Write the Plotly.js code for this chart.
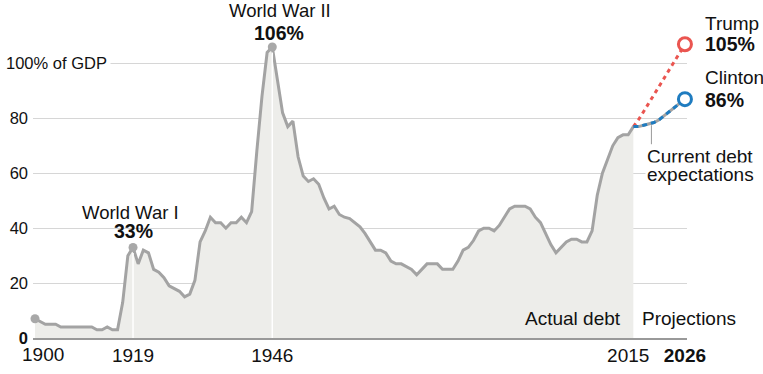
<!DOCTYPE html>
<html><head><meta charset="utf-8">
<script src="https://cdn.plot.ly/plotly-3.0.1.min.js"></script>
<style>html,body{margin:0;padding:0;background:#fff;}#chart{width:763px;height:374px;}</style>
</head><body><div id="chart"></div>
<script>
// ---- data ----
const firstYear = 1900;
// Debt held by the public, % of GDP, 1900-2016
const actualDebt = [
  7, 6, 5, 5, 5, 4, 4, 4, 4, 4,
  4, 4, 3, 3, 4, 3, 3, 13, 30, 33,
  27, 32, 31, 25, 24, 22, 19, 18, 17, 15,
  16, 21, 35, 39, 44, 42, 42, 40, 42, 42,
  44, 42, 46, 68, 88, 104, 106, 94, 82, 77,
  79, 66, 59, 57, 58, 56, 51, 47, 48, 45,
  44, 43.5, 42, 40.5, 38, 35, 32, 32, 31, 28,
  27, 27, 26, 25, 23, 25, 27, 27, 27, 25,
  25, 25, 28, 32, 33, 35.5, 39, 40, 40, 39,
  41, 44, 47, 48, 48, 48, 47, 44, 42, 38,
  34, 31, 33, 35, 36, 36, 35, 35, 39, 52,
  60, 65, 70, 73, 74, 74, 77
];
const projYears    = [2016, 2017, 2018, 2019, 2020, 2021, 2022, 2023, 2024, 2025, 2026];
const expectedDebt = [77, 77, 77.5, 78, 78.5, 79.5, 81, 82.5, 84, 85.5, 87];
const clintonDebt  = [77, 77, 77.5, 78, 78.5, 79.5, 81, 82.5, 84, 85.5, 87];
const trumpDebt    = [77, 79.5, 82.5, 85.5, 88.5, 91.5, 94.5, 97.5, 100.5, 104, 107];
const milestoneYears = [1900, 1919, 1946];
const xTickVals = [1919, 1946, 2015, 2026];
const xTickText = ['1919', '1946', '2015', '<b>2026</b>'];
const yTickVals = [0, 20, 40, 60, 80, 100];
const yTickText = ['<b>0</b>', '20', '40', '60', '80', ''];

// ---- derived ----
const actualYears = actualDebt.map((_, i) => firstYear + i);
const milestoneDebt = milestoneYears.map(y => actualDebt[y - firstYear]);
const last = projYears.length - 1;

const FONT = '"Liberation Sans", Arial, sans-serif';
const GRAY_LINE = '#a3a3a3';
const FILL = '#ededea';
const RED = '#ea5550';
const BLUE = '#1f7cc0';

const traces = [
  { x: actualYears, y: actualDebt, type: 'scatter', mode: 'lines', fill: 'tozeroy',
    fillcolor: FILL, line: { color: GRAY_LINE, width: 3 }, hoverinfo: 'skip' },
  { x: projYears, y: expectedDebt, type: 'scatter', mode: 'lines',
    line: { color: GRAY_LINE, width: 3 }, hoverinfo: 'skip' },
  { x: projYears, y: trumpDebt, type: 'scatter', mode: 'lines',
    line: { color: RED, width: 3, dash: '4px,4px' }, hoverinfo: 'skip' },
  { x: projYears, y: clintonDebt, type: 'scatter', mode: 'lines',
    line: { color: BLUE, width: 3, dash: '5px,4px' }, hoverinfo: 'skip' },
  { x: milestoneYears, y: milestoneDebt, type: 'scatter', mode: 'markers',
    marker: { color: '#a8a8a8', size: 9 }, hoverinfo: 'skip', cliponaxis: false },
  { x: [projYears[last]], y: [trumpDebt[last]], type: 'scatter', mode: 'markers',
    marker: { color: '#fff', size: 13, line: { color: RED, width: 3 } }, cliponaxis: false, hoverinfo: 'skip' },
  { x: [projYears[last]], y: [clintonDebt[last]], type: 'scatter', mode: 'markers',
    marker: { color: '#fff', size: 13, line: { color: BLUE, width: 3 } }, cliponaxis: false, hoverinfo: 'skip' }
];

const shapes = milestoneYears.slice(1).map(y => ({
  type: 'line', xref: 'x', yref: 'y', layer: 'above',
  x0: y, x1: y, y0: 0, y1: actualDebt[y - firstYear] - 2,
  line: { color: '#ffffff', width: 1.5 }
}));
// pointer for "Current debt expectations"
shapes.push({ type: 'line', xref: 'x', yref: 'y', layer: 'above',
  x0: 2019.5, x1: 2019.5, y0: 70.5, y1: 77.5, line: { color: '#999', width: 1 } });

function ann(text, x, y, opts) {
  return Object.assign({ text, x, y, xref: 'paper', yref: 'paper', showarrow: false,
    xanchor: 'center', yanchor: 'middle', font: { family: FONT, size: 19, color: '#111' } }, opts || {});
}

const annotations = [
  ann('100% of GDP', -0.047, 0.909, { xanchor: 'left', bgcolor: '#fff', borderpad: 3, font: { family: FONT, size: 16.5, color: '#111' } }),
  ann('World War II', 0.3777, 1.084, { font: { family: FONT, size: 18.5, color: '#111' } }),
  ann('<b>106%</b>', 0.376, 1.010, { font: { family: FONT, size: 19.5, color: '#111' } }),
  ann('World War I', 0.1498, 0.417, { font: { family: FONT, size: 18.5, color: '#111' } }),
  ann('<b>33%</b>', 0.1544, 0.354, { font: { family: FONT, size: 19.5, color: '#111' } }),
  ann('Trump', 1.0245, 1.043, { xanchor: 'left' }),
  ann('<b>105%</b>', 1.0245, 0.973, { xanchor: 'left', font: { family: FONT, size: 19.5, color: '#111' } }),
  ann('Clinton', 1.0245, 0.861, { xanchor: 'left' }),
  ann('<b>86%</b>', 1.0245, 0.788, { xanchor: 'left', font: { family: FONT, size: 19.5, color: '#111' } }),
  ann('Current debt', 0.9358, 0.601, { xanchor: 'left', bgcolor: '#fff', borderpad: 1 }),
  ann('expectations', 0.9358, 0.540, { xanchor: 'left', bgcolor: '#fff', borderpad: 1 }),
  ann('Actual debt', 0.902, 0.063, { xanchor: 'right' }),
  ann('Projections', 0.928, 0.063, { xanchor: 'left' }),
  { text: '1900', x: 1900, y: -0.056, xref: 'x', yref: 'paper', showarrow: false,
    xanchor: 'left', yanchor: 'middle', xshift: -15, font: { family: FONT, size: 19, color: '#111' } }
];

const layout = {
  width: 763, height: 374,
  margin: { l: 33, r: 76, t: 36, b: 36 },
  paper_bgcolor: '#fff', plot_bgcolor: '#fff',
  showlegend: false, hovermode: false,
  font: { family: FONT, color: '#111', size: 19 },
  xaxis: { range: [1899.61, 2026.4], showgrid: false, zeroline: false,
    showline: true, linecolor: '#999', linewidth: 1.5, ticks: '',
    tickmode: 'array', tickvals: xTickVals, ticktext: xTickText,
    tickfont: { family: FONT, size: 19, color: '#111' }, fixedrange: true },
  yaxis: { range: [0, 110], tickmode: 'array', tickvals: yTickVals, ticktext: yTickText,
    showgrid: true, gridcolor: '#d6d6d6', gridwidth: 1, zeroline: false, showline: false,
    ticks: '', ticklabelstandoff: 4,
    tickfont: { family: FONT, size: 16.5, color: '#111' }, fixedrange: true },
  shapes, annotations
};

Plotly.newPlot('chart', traces, layout, { staticPlot: true, displayModeBar: false });
</script>
</body></html>
